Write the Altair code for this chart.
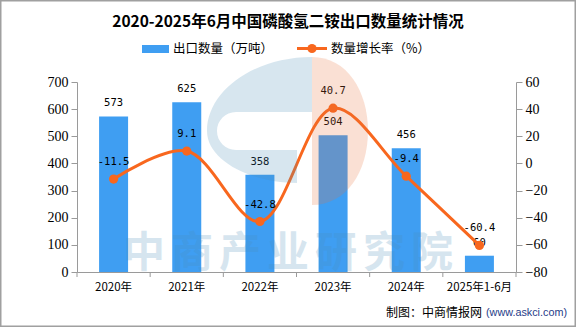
import altair as alt
import pandas as pd

# ---------------- data ----------------
categories = ["2020年", "2021年", "2022年", "2023年", "2024年", "2025年1-6月"]
export_volume = [573, 625, 358, 504, 456, 60]          # 出口数量（万吨）
growth_rate = [-11.5, 9.1, -42.8, 40.7, -9.4, -60.4]   # 数量增长率（%）
left_ticks = [0, 100, 200, 300, 400, 500, 600, 700]
right_ticks = [-80, -60, -40, -20, 0, 20, 40, 60]

title_text = "2020-2025年6月中国磷酸氢二铵出口数量统计情况"
legend_bar = "出口数量（万吨）"
legend_line = "数量增长率（%）"
source_cn = "制图：中商情报网"
source_url = "(www.askci.com)"
watermark = "中商产业研究院"

df = pd.DataFrame({"cat": categories, "vol": export_volume, "rate": growth_rate})
df["rate_label"] = df["rate"].map(lambda v: f"{v:.1f}")
one = pd.DataFrame({"k": [0]})

BAR = "#3F9EF2"
ORANGE = "#F8671E"
AXIS = "#9A9A9A"
CJK = "Noto Sans CJK SC"
NUM = "DejaVu Sans Mono"

# plot area origin in canvas coordinates
OX, OY = 77, 82
W, H = 439, 190

x_enc = alt.X("cat:N", sort=categories, title=None,
              scale=alt.Scale(paddingInner=0, paddingOuter=0),
              axis=alt.Axis(labelAngle=0, ticks=False, labelPadding=9, labelFont=CJK,
                            labelFontSize=11.5, labelColor="#000", domainColor=AXIS,
                            domainWidth=1))
y_left = alt.Scale(domain=[0, 700])
y_right = alt.Scale(domain=[-80, 60])

base = alt.Chart(df)

bars = base.mark_bar(size=29, color=BAR).encode(
    x=x_enc,
    y=alt.Y("vol:Q", scale=y_left, title=None,
            axis=alt.Axis(values=left_ticks, grid=False, orient="left", tickSize=6,
                          labelPadding=3, tickColor=AXIS, domainColor=AXIS,
                          labelFont="Liberation Serif", labelFontSize=14, labelColor="#000")),
)
bar_labels = base.mark_text(dy=-13, font=NUM, fontSize=10.5, color="#000").encode(
    x=alt.X("cat:N", sort=categories),
    y=alt.Y("vol:Q", scale=y_left, axis=None),
    text=alt.Text("vol:Q"),
)
line = base.mark_line(interpolate="catmull-rom", strokeWidth=3, color=ORANGE).encode(
    x=alt.X("cat:N", sort=categories),
    y=alt.Y("rate:Q", scale=y_right, title=None,
            axis=alt.Axis(values=right_ticks, grid=False, orient="right", tickSize=6,
                          labelPadding=3, tickColor=AXIS, domainColor=AXIS,
                          labelFont="Liberation Serif", labelFontSize=14, labelColor="#000")),
)
points = base.mark_circle(size=85, color=ORANGE, opacity=1).encode(
    x=alt.X("cat:N", sort=categories),
    y=alt.Y("rate:Q", scale=y_right, axis=None),
)
line_labels = base.mark_text(dy=-17, font=NUM, fontSize=10.5, color="#000").encode(
    x=alt.X("cat:N", sort=categories),
    y=alt.Y("rate:Q", scale=y_right, axis=None),
    text="rate_label:N",
)
# category boundary ticks on the x axis
xticks = base.mark_rule(color=AXIS, strokeWidth=1).encode(
    x=alt.X("cat:N", sort=categories, bandPosition=0),
    y=alt.value(H), y2=alt.value(H + 5),
)
xtick_end = alt.Chart(one).mark_rule(color=AXIS, strokeWidth=1).encode(
    x=alt.value(W), y=alt.value(H), y2=alt.value(H + 5))

# ---- watermark (logo + text) ----
blue_path = ("M0,-0.705 C-0.552,-0.705 -1,-0.381 -1,0 C-1,0.286 -0.571,0.495 -0.143,0.495 "
             "L-0.143,0.181 L-0.724,0.181 A0.181,0.181 0 0,1 -0.724,-0.181 L0,-0.181 Z")
orange_path = "M0,-0.705 C0.333,-0.705 0.533,-0.381 0.533,0 C0.533,0.381 0.333,0.705 0,0.705 Z"
logo_blue = alt.Chart(one).mark_point(shape=blue_path, size=44100, filled=True,
                                      color="#4A8DB8", opacity=0.22, strokeWidth=0).encode(
    x=alt.value(312 - OX), y=alt.value(131 - OY))
logo_orange = alt.Chart(one).mark_point(shape=orange_path, size=44100, filled=True,
                                        color="#E8703A", opacity=0.22, strokeWidth=0).encode(
    x=alt.value(312 - OX), y=alt.value(131 - OY))
wm_layers = []
for i, ch in enumerate(watermark):
    wm_layers.append(
        alt.Chart(one).mark_text(text=ch, font=CJK, fontSize=42, fontWeight="bold",
                                 color="#4A8DB8", opacity=0.22, align="center",
                                 baseline="middle").encode(
            x=alt.value(120 + 24 + i * 48 - OX), y=alt.value(254 - OY)))

# ---- title, legend, footer, frame ----
title = alt.Chart(one).mark_text(text=title_text, font=CJK, fontSize=15.5, fontWeight="bold",
                                 color="#000", align="center", baseline="middle").encode(
    x=alt.value(288 - OX), y=alt.value(22 - OY))
leg_rect = alt.Chart(one).mark_rect(color=BAR).encode(
    x=alt.value(142 - OX), x2=alt.value(169 - OX), y=alt.value(45 - OY), y2=alt.value(53 - OY))
leg_text1 = alt.Chart(one).mark_text(text=legend_bar, font=CJK, fontSize=12.5, color="#000",
                                     align="left", baseline="middle").encode(
    x=alt.value(173 - OX), y=alt.value(49 - OY))
leg_line = alt.Chart(one).mark_rule(color=ORANGE, strokeWidth=3).encode(
    x=alt.value(297 - OX), x2=alt.value(327 - OX), y=alt.value(48.5 - OY))
leg_dot = alt.Chart(one).mark_circle(size=85, color=ORANGE, opacity=1).encode(
    x=alt.value(312 - OX), y=alt.value(48.5 - OY))
leg_text2 = alt.Chart(one).mark_text(text=legend_line, font=CJK, fontSize=12.5, color="#000",
                                     align="left", baseline="middle").encode(
    x=alt.value(331 - OX), y=alt.value(49 - OY))
foot1 = alt.Chart(one).mark_text(text=source_cn, font=CJK, fontSize=12, color="#000",
                                 align="right", baseline="middle").encode(
    x=alt.value(482 - OX), y=alt.value(313 - OY))
foot2 = alt.Chart(one).mark_text(text=source_url, font="Liberation Sans", fontSize=10.8,
                                 color="#1F3C88", align="right", baseline="middle").encode(
    x=alt.value(567 - OX), y=alt.value(313 - OY))
frame = alt.Chart(one).mark_rect(fill=None, stroke="#A0A0A0", strokeWidth=1.5).encode(
    x=alt.value(0.75 - OX), x2=alt.value(575.25 - OX),
    y=alt.value(0.75 - OY), y2=alt.value(326.25 - OY))

chart = alt.layer(
    bars, bar_labels, line, points, line_labels, xticks, xtick_end,
    logo_blue, logo_orange, *wm_layers,
    title, leg_rect, leg_text1, leg_line, leg_dot, leg_text2, foot1, foot2, frame,
).resolve_scale(y="independent").properties(
    width=W, height=H,
    autosize=alt.AutoSizeParams(type="none"),
    padding={"left": OX, "top": OY, "right": 576 - OX - W, "bottom": 327 - OY - H},
    background="white",
).configure_view(stroke=None)

chart.save("out.html", embed_options={"renderer": "svg", "actions": False})
